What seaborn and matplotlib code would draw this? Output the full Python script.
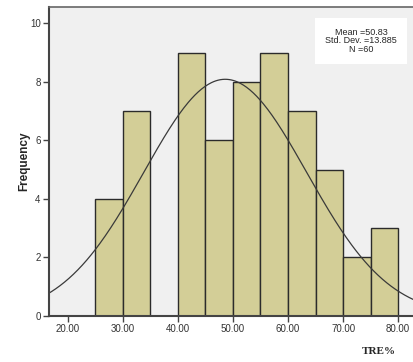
import numpy as np
import pandas as pd
import matplotlib
matplotlib.use("Agg")
import matplotlib.pyplot as plt
import seaborn as sns

# Data
bin_edges = [25, 30, 35, 40, 45, 50, 55, 60, 65, 70, 75, 80]
counts = [4, 7, 0, 9, 6, 8, 9, 7, 5, 2, 3]
x_ticks = [20, 30, 40, 50, 60, 70, 80]
x_tick_labels = ["20.00", "30.00", "40.00", "50.00", "60.00", "70.00", "80.00"]
y_ticks = [0, 2, 4, 6, 8, 10]
stats_text = ["Mean =50.83", "Std. Dev. =13.885", "N =60"]
curve_mean = 48.6
curve_sd = 14.8
n_total = 60
bin_width = 5

sns.set_theme(style="white")
plt.rcParams["font.family"] = ["Liberation Sans", "DejaVu Sans"]

centers = [(a + b) / 2 for a, b in zip(bin_edges[:-1], bin_edges[1:])]
df = pd.DataFrame({"TRE": centers, "count": counts})

fig = plt.figure(figsize=(4.13, 3.62), dpi=100)
ax = fig.add_axes([0.1186, 0.127, 0.8814, 0.854])
ax.set_facecolor("#F0F0F0")

sns.histplot(data=df, x="TRE", weights="count", bins=bin_edges, ax=ax,
             color="#D3CE97", alpha=1.0, edgecolor="#2b2b2b", linewidth=1.0)

xs = np.linspace(10, 90, 400)
ys = n_total * bin_width / (curve_sd * np.sqrt(2 * np.pi)) * np.exp(-0.5 * ((xs - curve_mean) / curve_sd) ** 2)
sns.lineplot(x=xs, y=ys, ax=ax, color="#3a3a3a", linewidth=0.9)

ax.set_xlim(16.6, 82.7)
ax.set_ylim(0, 10.56)
ax.set_xticks(x_ticks)
ax.set_xticklabels(x_tick_labels)
ax.set_yticks(y_ticks)
ax.tick_params(axis="both", which="both", direction="out", length=4, width=1,
               color="#444444", labelsize=7, labelcolor="#333333", pad=2,
               bottom=True, left=True)

for side in ["left", "bottom"]:
    ax.spines[side].set_color("#444444")
    ax.spines[side].set_linewidth(1.5)
ax.spines["top"].set_color("#666666")
ax.spines["top"].set_linewidth(1.2)
ax.spines["right"].set_visible(False)

ax.set_ylabel("Frequency", fontsize=8.5, fontweight="bold", labelpad=0)
ax.yaxis.set_label_coords(-0.052, 0.5)
ax.set_xlabel("")
fig.text(0.918, 0.028, "TRE%", fontsize=8, fontweight="bold",
         family=["Liberation Serif", "DejaVu Serif"], ha="center", va="center")

ax.text(0.857, 0.89, "\n".join(stats_text), transform=ax.transAxes,
        fontsize=6.5, ha="center", va="center", linespacing=0.9,
        bbox=dict(boxstyle="square,pad=1.1", facecolor="white", edgecolor="none"))

fig.savefig("out.png", dpi=100, facecolor="white")
